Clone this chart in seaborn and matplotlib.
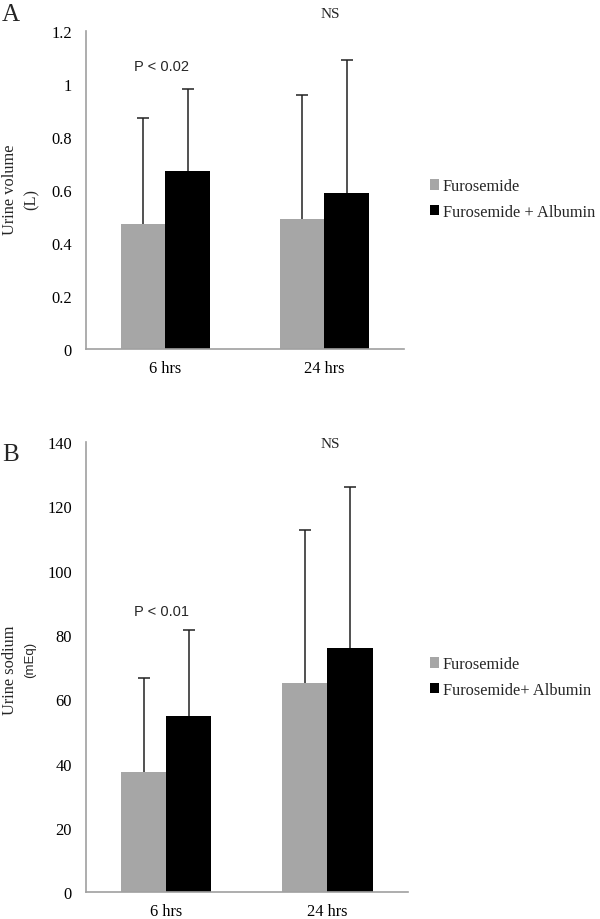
import matplotlib
matplotlib.use('Agg')
import matplotlib.pyplot as plt
import numpy as np
import pandas as pd
import seaborn as sns

# data
times = ['6 hrs', '24 hrs']
groups_a = ['Furosemide', 'Furosemide + Albumin']
groups_b = ['Furosemide', 'Furosemide+ Albumin']

vol_furo = [0.47, 0.49]
vol_furo_sd = [0.40, 0.47]
vol_alb = [0.67, 0.59]
vol_alb_sd = [0.31, 0.50]

na_furo = [37.3, 65.0]
na_furo_sd = [29.3, 47.7]
na_alb = [54.8, 75.9]
na_alb_sd = [26.8, 50.2]

sns.set_style('white')
plt.rcParams['font.family'] = ['Liberation Serif', 'DejaVu Serif']

GRAY = '#a6a6a6'
SPINE = '#a0a0a0'
FS = 11.8


def make_df(groups, furo, alb):
    rows = []
    for i, t in enumerate(times):
        rows.append({'time': t, 'group': groups[0], 'value': furo[i]})
        rows.append({'time': t, 'group': groups[1], 'value': alb[i]})
    return pd.DataFrame(rows)


def draw_panel(ax, groups, furo, furo_sd, alb, alb_sd, ymax, step):
    df = make_df(groups, furo, alb)
    sns.barplot(data=df, x='time', y='value', hue='group', hue_order=groups,
                order=times, palette=[GRAY, 'black'], width=0.56,
                errorbar=None, saturation=1, ax=ax, legend=True,
                linewidth=0)
    bars = list(ax.containers)
    # upward-only error bars with caps
    sds = {groups[0]: furo_sd, groups[1]: alb_sd}
    vals = {groups[0]: furo, groups[1]: alb}
    for gi, cont in enumerate(bars):
        g = groups[gi]
        xs = [p.get_x() + p.get_width() / 2 for p in cont.patches]
        eb = ax.errorbar(xs, vals[g], yerr=[np.zeros(len(xs)), sds[g]],
                         fmt='none', ecolor='#222222', elinewidth=1.1,
                         capsize=4, capthick=1.1)
        eb[1][0].set_visible(False)  # hide lower caps
    ax.set_xlim(-0.5, 1.5)
    ax.set_ylim(0, ymax)
    ticks = np.arange(0, ymax + step / 2, step)
    ax.set_yticks(ticks)
    ax.set_yticklabels(['{:g}'.format(round(v, 2)) for v in ticks])
    ax.set_xlabel('')
    ax.set_ylabel('')
    for s in ['top', 'right']:
        ax.spines[s].set_visible(False)
    for s in ['left', 'bottom']:
        ax.spines[s].set_color(SPINE)
        ax.spines[s].set_linewidth(1.2)
    ax.tick_params(axis='both', length=0, labelsize=FS, colors='black')
    ax.tick_params(axis='y', pad=10)
    ax.tick_params(axis='x', pad=8)
    ax.get_legend().remove()
    return bars


fig = plt.figure(figsize=(6, 9.2), dpi=100)
ax1 = fig.add_axes([0.143, 0.6196, 0.530, 0.3457])
ax2 = fig.add_axes([0.143, 0.0293, 0.537, 0.489])

bars1 = draw_panel(ax1, groups_a, vol_furo, vol_furo_sd, vol_alb, vol_alb_sd, 1.2, 0.2)
bars2 = draw_panel(ax2, groups_b, na_furo, na_furo_sd, na_alb, na_alb_sd, 140, 20)

# legends
for bars, groups, y0 in [(bars1, groups_a, 1 - 200 / 920), (bars2, groups_b, 1 - 678 / 920)]:
    fig.legend([c.patches[0] for c in bars], groups, loc='center left',
               bbox_to_anchor=(0.705, y0), frameon=False, fontsize=FS,
               handlelength=0.6, handleheight=0.6, handletextpad=0.2,
               labelspacing=0.6, borderaxespad=0)

# panel letters
fig.text(0.003, 0.984, 'A', fontsize=18, ha='left', va='center')
fig.text(0.003, 1 - 455 / 920, 'B', fontsize=18, ha='left', va='center')

# y labels
fig.text(10 / 600, 1 - 190 / 920, 'Urine volume', rotation=90, fontsize=FS,
         ha='center', va='center')
fig.text(32 / 600, 1 - 200 / 920, '(L)', rotation=90, fontsize=FS,
         ha='center', va='center')
fig.text(10 / 600, 1 - 670 / 920, 'Urine sodium', rotation=90, fontsize=FS,
         ha='center', va='center')
fig.text(30 / 600, 1 - 660 / 920, '(mEq)', rotation=90, fontsize=9.5,
         ha='center', va='center', family=['Liberation Sans', 'DejaVu Sans'])

# significance notes
fig.text(162 / 600, 1 - 67 / 920, 'P < 0.02', fontsize=10.5, ha='center', va='center',
         family=['Liberation Sans', 'DejaVu Sans'])
fig.text(330 / 600, 1 - 14 / 920, 'NS', fontsize=11, ha='center', va='center')
fig.text(162 / 600, 1 - 612 / 920, 'P < 0.01', fontsize=10.5, ha='center', va='center',
         family=['Liberation Sans', 'DejaVu Sans'])
fig.text(330 / 600, 1 - 445 / 920, 'NS', fontsize=11, ha='center', va='center')

fig.savefig('out.png', dpi=100)
